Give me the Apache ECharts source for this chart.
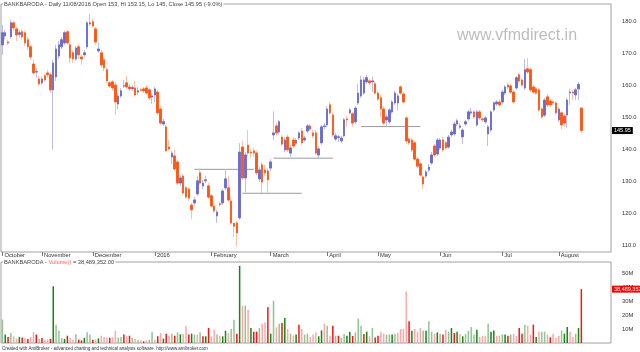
<!DOCTYPE html>
<html>
<head>
<meta charset="utf-8">
<title>BANKBARODA daily</title>
<script src="https://cdn.jsdelivr.net/npm/echarts@6/dist/echarts.min.js"></script>
<style>
  html, body { margin: 0; padding: 0; background: #fff; }
  #chart { width: 640px; height: 352px; }
</style>
</head>
<body>
<div id="chart"></div>
<script>
// daily bars, Oct 2015 .. 11 Aug 2016
const opens = [
  172.8, 175.6, 173.7, 175.3, 179.7, 177.8, 176.1, 176.9, 176.6, 174.4,
  172.2, 166.8, 164.3, 162.1, 160.9, 163.1, 164.0, 163.4, 158.7, 162.8,
  169.3, 172.2, 173.4, 176.9, 172.8, 170.3, 168.4, 172.2, 169.0, 169.7,
  172.2, 179.4, 180.0, 177.8, 170.9, 170.3, 168.1, 165.0, 160.9, 161.2,
  160.2, 154.3, 156.8, 159.9, 160.9, 159.6, 159.1, 159.3, 158.0, 158.7,
  159.0, 159.3, 158.7, 156.5, 157.1, 158.0, 152.7, 148.0, 147.1, 140.8,
  137.7, 138.0, 136.1, 129.5, 131.7, 128.0, 127.6, 122.6, 123.3, 126.1,
  132.7, 128.6, 130.2, 128.6, 125.5, 122.3, 119.2, 123.0, 123.3, 128.0,
  128.0, 123.9, 116.9, 117.0, 118.6, 140.8, 131.1, 141.4, 139.2, 139.6,
  138.9, 130.8, 135.2, 133.6, 133.3, 134.2, 144.6, 147.4, 145.5, 143.9,
  139.9, 143.9, 138.9, 143.0, 142.0, 143.6, 145.8, 143.0, 145.8, 147.4,
  145.2, 145.2, 138.3, 142.1, 147.2, 147.7, 154.0, 150.8, 143.3, 143.8,
  142.7, 144.3, 149.6, 151.5, 151.2, 148.7, 154.6, 156.8, 157.7, 161.2,
  161.5, 161.2, 160.6, 157.7, 156.2, 152.7, 149.3, 148.7, 151.8, 154.6,
  154.6, 159.6, 157.4, 149.9, 143.3, 143.0, 142.1, 137.0, 135.5, 131.4,
  131.7, 133.6, 135.8, 141.1, 138.6, 140.5, 143.0, 142.1, 140.8, 144.6,
  144.9, 148.0, 147.0, 144.0, 148.0, 149.6, 151.5, 151.8, 147.7, 151.8,
  149.6, 148.7, 144.9, 146.1, 152.4, 154.3, 154.9, 154.9, 157.7, 160.2,
  159.9, 158.0, 159.3, 163.4, 161.8, 159.3, 165.3, 165.0, 159.6, 159.0,
  158.7, 152.7, 150.8, 156.5, 155.2, 154.9, 154.6, 149.3, 151.5, 150.5,
  150.8, 157.7, 158.0, 157.1, 159.0, 153.0
];
const highs = [
  179.0, 177.5, 174.4, 180.6, 180.3, 178.4, 177.5, 177.8, 177.2, 175.3,
  172.8, 168.1, 165.6, 163.1, 162.8, 163.7, 165.0, 164.0, 168.1, 172.8,
  174.0, 175.3, 177.2, 177.5, 173.4, 171.2, 172.5, 173.0, 169.7, 171.2,
  180.3, 182.4, 181.0, 178.4, 173.5, 171.2, 169.0, 165.6, 161.5, 161.8,
  161.2, 157.7, 159.3, 161.8, 163.1, 160.6, 160.2, 161.5, 159.6, 159.3,
  159.6, 160.2, 159.3, 157.7, 159.6, 158.7, 153.6, 149.6, 147.7, 143.0,
  139.6, 139.9, 137.0, 132.0, 132.4, 128.6, 128.0, 123.3, 125.1, 131.7,
  134.2, 130.5, 131.7, 129.5, 126.1, 123.0, 121.1, 123.6, 127.6, 133.9,
  131.7, 125.1, 117.0, 117.6, 142.0, 142.7, 139.2, 146.1, 140.2, 140.5,
  139.6, 134.5, 136.1, 135.2, 134.2, 137.0, 152.0, 148.3, 149.3, 144.6,
  143.9, 144.6, 141.4, 143.9, 143.6, 145.8, 146.7, 144.3, 148.0, 148.0,
  146.1, 146.1, 141.1, 147.7, 148.3, 153.6, 154.9, 151.5, 145.2, 144.6,
  144.3, 149.9, 150.5, 153.0, 151.8, 153.6, 160.6, 163.1, 162.8, 163.4,
  162.1, 162.8, 161.5, 158.4, 157.1, 153.6, 151.0, 153.0, 155.5, 158.4,
  157.4, 160.2, 158.0, 150.5, 143.9, 143.6, 142.7, 137.7, 136.1, 132.0,
  133.6, 135.5, 139.2, 141.7, 143.6, 143.6, 143.9, 142.7, 144.6, 146.1,
  148.7, 149.6, 148.3, 146.7, 149.3, 152.4, 153.0, 152.4, 152.4, 152.4,
  150.2, 150.5, 147.7, 152.4, 155.2, 155.5, 155.8, 158.7, 160.2, 160.9,
  160.6, 158.7, 163.1, 164.0, 162.5, 168.4, 168.7, 165.6, 160.2, 159.6,
  159.3, 153.3, 156.2, 157.4, 155.8, 155.5, 155.2, 153.3, 152.1, 151.2,
  156.2, 159.0, 158.7, 159.3, 161.2, 153.15
];
const lows = [
  169.7, 174.5, 172.8, 174.7, 177.0, 174.0, 175.0, 174.4, 172.5, 171.2,
  168.1, 163.4, 162.5, 159.9, 160.2, 161.2, 162.5, 157.7, 139.9, 161.5,
  168.4, 171.5, 172.8, 172.8, 167.1, 167.1, 167.8, 168.4, 166.5, 169.0,
  171.5, 178.7, 178.1, 172.8, 170.3, 165.6, 164.6, 160.9, 159.3, 158.4,
  150.8, 152.7, 156.2, 159.3, 159.0, 158.4, 158.4, 156.5, 157.1, 158.0,
  157.7, 157.1, 155.5, 154.3, 154.9, 150.8, 147.7, 147.4, 139.2, 139.6,
  135.5, 133.3, 128.9, 128.6, 125.8, 124.5, 123.9, 118.2, 122.3, 125.5,
  129.0, 127.6, 129.5, 124.5, 121.7, 120.1, 117.0, 122.0, 122.6, 127.3,
  123.6, 116.4, 112.6, 109.5, 118.0, 130.5, 126.5, 138.0, 137.4, 137.7,
  132.0, 129.8, 126.4, 131.7, 126.4, 133.3, 143.0, 144.3, 144.6, 141.1,
  139.2, 139.2, 137.7, 140.5, 141.4, 143.0, 141.4, 142.4, 145.2, 145.8,
  143.6, 138.3, 137.4, 141.4, 146.4, 147.1, 150.8, 143.9, 142.7, 142.4,
  142.1, 143.9, 147.1, 151.0, 147.1, 148.0, 154.0, 156.2, 157.1, 160.6,
  160.2, 158.0, 157.1, 155.2, 150.2, 147.7, 147.1, 148.0, 151.2, 154.0,
  152.4, 157.1, 154.3, 141.7, 141.4, 139.2, 136.4, 134.2, 131.4, 127.6,
  131.1, 133.0, 135.2, 137.7, 138.0, 139.9, 139.2, 139.9, 140.2, 144.0,
  144.3, 147.4, 146.4, 141.7, 147.4, 149.0, 150.8, 149.6, 147.1, 149.3,
  148.7, 148.0, 141.1, 145.5, 151.8, 153.6, 153.3, 154.3, 157.1, 159.0,
  157.4, 154.3, 158.7, 160.9, 159.6, 158.7, 163.7, 158.0, 157.4, 157.1,
  151.8, 149.6, 150.2, 153.3, 153.3, 153.9, 150.8, 148.7, 146.4, 147.1,
  146.8, 154.0, 155.5, 155.5, 155.5, 145.0
];
const closes = [
  176.6, 176.6, 173.4, 179.7, 178.1, 175.9, 176.6, 175.3, 173.4, 172.2,
  169.0, 164.0, 164.4, 160.6, 162.1, 161.8, 163.4, 158.7, 167.1, 171.5,
  172.8, 174.4, 176.6, 173.4, 168.7, 168.4, 171.8, 169.7, 168.4, 170.3,
  179.7, 179.7, 178.7, 173.7, 171.5, 166.5, 165.6, 161.5, 159.9, 159.3,
  154.9, 156.8, 158.4, 160.0, 159.6, 159.0, 159.4, 157.1, 158.4, 158.6,
  158.4, 157.7, 156.2, 156.8, 159.0, 151.5, 148.3, 148.7, 139.6, 140.2,
  138.9, 133.9, 129.5, 131.1, 126.4, 125.1, 124.8, 121.1, 124.2, 130.2,
  129.5, 129.5, 130.5, 125.1, 122.3, 120.8, 120.4, 122.8, 127.0, 130.8,
  124.2, 117.0, 116.0, 113.9, 139.2, 131.1, 138.3, 138.9, 138.9, 138.9,
  132.7, 133.6, 129.8, 132.7, 130.5, 136.1, 145.2, 145.2, 148.7, 141.7,
  143.0, 139.9, 140.5, 141.1, 142.8, 145.2, 142.1, 143.6, 147.4, 146.4,
  144.3, 138.9, 140.2, 147.1, 147.4, 152.7, 151.5, 144.6, 144.3, 144.0,
  143.6, 149.3, 149.3, 152.4, 148.3, 153.0, 157.7, 161.8, 161.8, 162.5,
  160.9, 161.5, 157.7, 155.8, 152.7, 148.3, 150.2, 152.4, 154.9, 157.7,
  156.8, 157.7, 154.9, 142.7, 142.1, 139.9, 137.0, 134.8, 132.0, 129.2,
  133.0, 134.5, 138.3, 138.3, 143.0, 143.0, 139.9, 140.5, 143.9, 145.5,
  148.0, 149.0, 147.4, 146.1, 148.7, 151.8, 151.8, 150.2, 151.8, 149.9,
  149.3, 149.9, 147.1, 151.8, 154.6, 154.9, 154.0, 158.0, 159.6, 159.6,
  158.0, 154.9, 162.5, 161.5, 160.2, 165.0, 164.3, 158.7, 158.0, 157.7,
  152.4, 150.2, 155.5, 154.0, 154.0, 154.6, 151.5, 152.7, 147.7, 148.3,
  155.5, 158.0, 157.7, 158.7, 160.4, 145.95
];
// volume in millions of shares
const volumes = [
  16.7, 6.0, 4.3, 7.1, 4.8, 3.1, 4.3, 4.0, 3.6, 2.9,
  4.3, 7.9, 6.0, 2.9, 3.6, 1.9, 2.4, 2.9, 40.5, 13.1,
  9.0, 3.6, 2.9, 5.2, 3.6, 2.4, 6.2, 2.4, 1.9, 3.6,
  7.6, 6.0, 2.4, 2.4, 3.3, 5.2, 4.3, 3.8, 3.8, 4.0,
  8.8, 4.0, 4.3, 6.0, 4.8, 5.2, 3.6, 2.9, 2.4, 1.9,
  1.2, 1.9, 2.4, 7.9, 2.4, 4.8, 7.1, 3.1, 6.7, 5.2,
  6.7, 5.2, 7.6, 6.2, 6.4, 12.4, 6.0, 6.7, 6.0, 6.0,
  7.6, 4.8, 4.8, 10.7, 4.8, 9.5, 6.0, 5.2, 4.8, 8.8,
  7.1, 10.0, 16.7, 6.7, 55.2, 26.7, 26.7, 23.8, 10.7, 8.1,
  8.1, 10.7, 13.8, 14.8, 25.5, 6.7, 30.2, 11.2, 13.8, 14.3,
  17.9, 10.0, 6.7, 5.5, 6.0, 13.1, 10.0, 6.0, 6.7, 4.3,
  6.0, 7.6, 4.8, 9.0, 13.8, 12.4, 5.2, 12.4, 5.2, 5.2,
  3.6, 6.4, 5.2, 8.1, 5.0, 7.6, 17.6, 12.4, 6.4, 8.1,
  4.8, 10.7, 4.0, 5.2, 8.1, 6.7, 6.0, 6.0, 6.0, 6.7,
  7.4, 10.0, 10.0, 36.9, 15.5, 8.8, 10.0, 8.1, 10.7, 9.0,
  8.8, 15.5, 8.1, 6.7, 7.6, 6.7, 6.0, 9.5, 8.1, 10.7,
  7.1, 8.1, 6.4, 4.8, 6.4, 8.8, 11.4, 6.0, 9.5, 4.3,
  5.2, 5.2, 13.8, 8.1, 9.0, 5.2, 5.2, 6.0, 6.0, 5.2,
  6.0, 6.4, 4.8, 10.7, 6.7, 13.1, 12.4, 6.0, 13.1, 4.3,
  8.1, 8.1, 8.1, 6.0, 4.0, 6.7, 4.0, 5.2, 9.0, 6.7,
  11.4, 8.1, 4.3, 6.7, 10.7, 38.489352
];
// volume bar kind: G up, g up (pale), R down, r down (pale)
const volumeKind = (
  'gGRgrrGRrR' + 'rrRgRrrRGg' + 'ggGRrrgRRG' + 'ggRrGrrrRr' + 'rggRrRgrgr' +
  'RrggrRrGRr' + 'gRgGrrRGgr' + 'gRGRrrgrGG' + 'rggRGrgrGR' + 'RgrrRGgrgR' +
  'GrgrGRrggr' + 'rrGGrgrRgR' + 'ggGGRgggRG' + 'rgRRrrggGg' + 'rrrrRGrrrg' +
  'GggrGgRrgG' + 'RGrGggggGr' + 'rrgGGrrgGR' + 'grrRRgrrRG' + 'rggrRrrrgG' +
  'GrrgGR'
).split('');

const monthStarts = [0, 14, 32, 54, 74, 95, 115, 133, 155, 177, 197];
const monthNames = ['October', 'November', 'December', '2016', 'February', 'March',
  'April', 'May', 'Jun', 'Jul', 'August'];
const priceTicks = [110, 120, 130, 140, 150, 160, 170, 180];
const volumeTicks = [10, 20, 30, 40, 50];
// horizontal levels: [from bar, to bar, price]
const levels = [[68, 89, 133.8], [85, 106, 126.3], [96, 117, 137.3], [127, 148, 147.2]];

const FONT = 'Liberation Sans';
const N = opens.length;
const slots = N + 10; // empty room right of the last bar
const days = Array.from({ length: slots }, (_, i) => String(i));
const isMonthStart = (i) => monthStarts.indexOf(i) >= 0;

const kindColor = { G: '#118811', g: '#92c392', R: '#ff1010', r: '#ffa6a6' };

const wickData = opens.map((o, i) => [o, closes[i], lows[i], highs[i]]);
const bodyData = opens.map((o, i) => [o, closes[i], Math.min(o, closes[i]), Math.max(o, closes[i])]);
const volData = volumes.map((v, i) => ({ value: v, itemStyle: { color: kindColor[volumeKind[i]] } }));

const levelSeries = levels.map(l => ({
  type: 'line',
  xAxisIndex: 0,
  yAxisIndex: 0,
  data: [[l[0], l[2]], [l[1], l[2]]],
  symbol: 'none',
  silent: true,
  lineStyle: { color: '#9a9a9a', width: 1 },
  z: 1
}));

const chart = echarts.init(document.getElementById('chart'));

chart.setOption({
  animation: false,
  backgroundColor: '#fff',
  textStyle: { fontFamily: FONT },
  grid: [
    { left: 1, right: 29, top: 4, height: 248, show: true, borderColor: '#a0a0a0', borderWidth: 1 },
    { left: 1, right: 29, top: 262, height: 81, show: true, borderColor: '#a0a0a0', borderWidth: 1 }
  ],
  xAxis: [
    {
      type: 'category',
      gridIndex: 0,
      data: days,
      axisLine: { show: false },
      axisTick: {
        show: true,
        alignWithLabel: true,
        interval: (i) => isMonthStart(i),
        length: 4,
        lineStyle: { color: '#777' }
      },
      axisLabel: {
        interval: (i) => isMonthStart(i),
        formatter: (v, i) => monthNames[monthStarts.indexOf(i)],
        align: 'left',
        margin: 0,
        padding: [0, 0, 0, 2],
        fontSize: 5.8,
        color: '#333',
        fontFamily: FONT
      },
      splitLine: { show: false }
    },
    {
      type: 'category',
      gridIndex: 1,
      data: days,
      axisLine: { show: false },
      axisTick: { show: false },
      axisLabel: { show: false },
      splitLine: { show: false }
    }
  ],
  yAxis: [
    {
      type: 'value',
      gridIndex: 0,
      position: 'right',
      min: 107.9,
      max: 185.6,
      axisLine: { show: false },
      axisTick: { show: false },
      splitLine: { show: false },
      axisLabel: {
        customValues: priceTicks,
        formatter: (v) => v.toFixed(1),
        margin: 11,
        fontSize: 5.8,
        color: '#333',
        fontFamily: FONT
      }
    },
    {
      type: 'value',
      gridIndex: 1,
      position: 'right',
      min: 0,
      max: 57.9,
      axisLine: { show: false },
      axisTick: { show: false },
      splitLine: { show: false },
      axisLabel: {
        customValues: volumeTicks,
        formatter: (v) => v + 'M',
        margin: 11,
        fontSize: 5.8,
        color: '#333',
        fontFamily: FONT
      }
    }
  ],
  series: [
    ...levelSeries,
    {
      name: 'wick',
      type: 'candlestick',
      xAxisIndex: 0,
      yAxisIndex: 0,
      data: wickData,
      barWidth: 2,
      itemStyle: {
        color: '#bdbde8',
        color0: '#ffbfa8',
        borderColor: '#bdbde8',
        borderColor0: '#ffbfa8',
        borderWidth: 1
      },
      z: 2
    },
    {
      name: 'body',
      type: 'candlestick',
      xAxisIndex: 0,
      yAxisIndex: 0,
      data: bodyData,
      barWidth: 2,
      itemStyle: {
        color: '#6a6ad0',
        color0: '#ff5512',
        borderColor: '#6a6ad0',
        borderColor0: '#ff5512',
        borderWidth: 0.8
      },
      z: 3
    },
    {
      name: 'volume',
      type: 'bar',
      xAxisIndex: 1,
      yAxisIndex: 1,
      data: volData,
      barWidth: 1.5
    }
  ]
});

const lastClose = closes[N - 1];
const lastVol = volumes[N - 1];
const yClose = chart.convertToPixel({ yAxisIndex: 0 }, lastClose);
const yVol = chart.convertToPixel({ yAxisIndex: 1 }, lastVol);
const fmtInt = (n) => Math.round(n).toString().replace(/\B(?=(\d{3})+(?!\d))/g, ',');

chart.setOption({
  graphic: {
    elements: [
      {
        type: 'text', x: 3, y: 4, z: 100,
        style: {
          text: 'BANKBARODA - Daily 11/08/2016 Open ' + opens[N - 1] + ', Hi ' + highs[N - 1] +
            ', Lo ' + lows[N - 1] + ', Close ' + lastClose + ' (-9.0%)',
          fill: '#444', fontSize: 5.7, fontFamily: FONT,
          verticalAlign: 'middle', backgroundColor: '#fff', padding: [1, 1]
        }
      },
      {
        type: 'text', x: 3, y: 262.5, z: 100,
        style: {
          text: '{a|BANKBARODA - }{b|Volume()}{a| = ' + fmtInt(lastVol * 1e6) + '.00}',
          verticalAlign: 'middle', backgroundColor: '#fff', padding: [1, 1],
          fontSize: 5.7, fontFamily: FONT,
          rich: {
            a: { fill: '#444', fontSize: 5.7, fontFamily: FONT },
            b: { fill: '#ff6060', fontSize: 5.7, fontFamily: FONT }
          }
        }
      },
      {
        type: 'text', x: 457, y: 36, z: 0,
        style: {
          text: 'www.vfmdirect.in', fill: '#bdbdbd', fontSize: 16, fontFamily: FONT,
          verticalAlign: 'middle'
        }
      },
      {
        type: 'text', x: 612, y: yClose, z: 100,
        style: {
          text: lastClose.toFixed(2), fill: '#fff', backgroundColor: '#000',
          fontSize: 5.5, fontFamily: FONT, verticalAlign: 'middle', padding: [1, 2, 0, 2]
        }
      },
      {
        type: 'text', x: 612, y: yVol, z: 100,
        style: {
          text: fmtInt(lastVol * 1e6), fill: '#fff', backgroundColor: '#ff0000',
          fontSize: 5.5, fontFamily: FONT, verticalAlign: 'middle', padding: [1, 2, 0, 2]
        }
      },
      {
        type: 'text', x: 2, y: 348.5, z: 100,
        style: {
          text: 'Created with AmiBroker - advanced charting and technical analysis software. http://www.amibroker.com',
          fill: '#333', fontSize: 4.5, fontFamily: FONT, verticalAlign: 'middle'
        }
      }
    ]
  }
});
</script>
</body>
</html>
